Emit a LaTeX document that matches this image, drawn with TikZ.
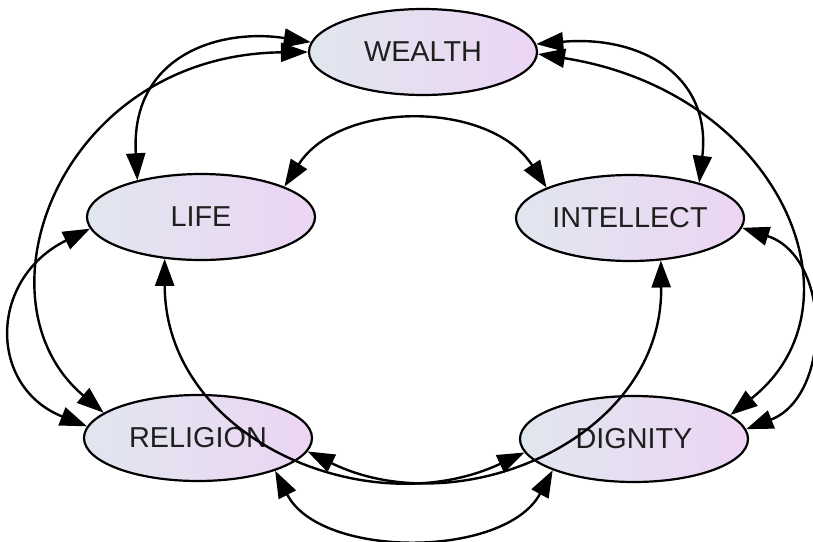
\documentclass[tikz,border=0pt]{standalone}
\usepackage{fontspec}
\setmainfont{Liberation Sans}
\usetikzlibrary{shapes.geometric,arrows.meta}
\definecolor{valueleft}{RGB}{225,230,238}
\definecolor{valueright}{RGB}{236,213,244}

\begin{document}
\begin{tikzpicture}[
  x=0.5pt,y=-0.5pt,
  value/.style={ellipse,draw,line width=1.1pt,inner sep=0pt,
    minimum width=114pt,minimum height=43pt,
    left color=valueleft,right color=valueright,text=black!88,
    font=\fontsize{14.4}{17}\selectfont},
  link/.style={{Triangle[length=13.5pt,width=9.5pt]}-{Triangle[length=13.5pt,width=9.5pt]},line width=1.2pt}]

  \useasboundingbox (0,0) rectangle (813,541);

  \node[value] (wealth)    at (423,52)  {WEALTH};
  \node[value] (life)      at (201,217) {LIFE};
  \node[value] (intellect) at (630,218) {INTELLECT};
  \node[value] (religion)  at (198,438) {RELIGION};
  \node[value] (dignity)   at (634,439) {DIGNITY};

  % outer arcs round the left and right sides
  \draw[link] (wealth.175) .. controls (220,28) and (130,55) .. (life.150);
  \draw[link] (wealth.180) .. controls (60,55) and (-30,300) .. (religion.165);
  \draw[link] (life.186) .. controls (-12,279) and (-12,387) .. (religion.174);
  \draw[link] (wealth.4) .. controls (640,35) and (712,75) .. (intellect.27);
  \draw[link] (wealth.359) .. controls (780,92) and (870,305) .. (dignity.14);
  \draw[link] (intellect.355) .. controls (832,257) and (832,396) .. (dignity.5);

  % inner arcs
  \draw[link] (life.20) .. controls (340,100) and (490,100) .. (intellect.160);
  \draw[link] (life.229) .. controls (165,440) and (370,525) .. (dignity.187);
  \draw[link] (intellect.306) .. controls (663,440) and (458,525) .. (religion.353);
  \draw[link] (religion.337) .. controls (320,559) and (505,559) .. (dignity.201);
\end{tikzpicture}
\end{document}
